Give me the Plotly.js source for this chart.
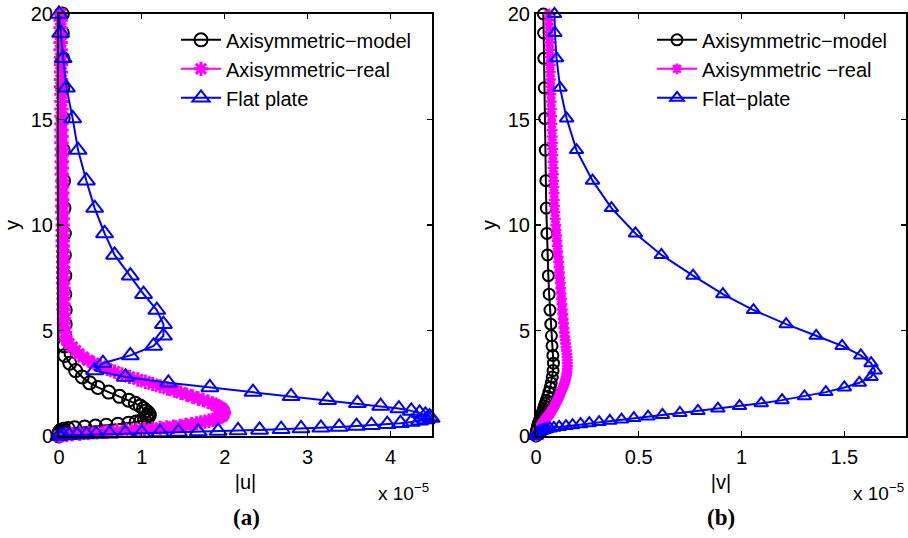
<!DOCTYPE html>
<html>
<head>
<meta charset="utf-8">
<script src="https://cdn.plot.ly/plotly-3.0.1.min.js"></script>
<style>
  html, body { margin: 0; padding: 0; background: #fff; }
  #plot { width: 908px; height: 538px; }
</style>
</head>
<body>
<div id="plot"></div>
<script>
// Wall-normal grid shared by the model and flat-plate profiles (top to wall)
const yGrid = [
  20.0, 19.1, 17.9, 16.5, 15.05, 13.55, 12.1, 10.8, 9.6, 8.58,
  7.6, 6.72, 5.97, 5.3, 4.75, 4.27, 3.82, 3.45, 3.1, 2.8,
  2.52, 2.3, 2.08, 1.88, 1.7, 1.55, 1.42, 1.3, 1.19, 1.09,
  1.0, 0.92, 0.85, 0.78, 0.72, 0.66, 0.61, 0.56, 0.51, 0.47,
  0.43, 0.39, 0.355, 0.32, 0.29, 0.26, 0.235, 0.21, 0.19, 0.17,
  0.15, 0.13, 0.11, 0.09, 0.07, 0.055, 0.04, 0.025, 0.01, 0.0
];

// |u| in units of 1e-5
const uModel = [
  0.04, 0.04, 0.045, 0.045, 0.05, 0.05, 0.055, 0.06, 0.065, 0.065,
  0.07, 0.07, 0.075, 0.075, 0.07, 0.065, 0.07, 0.13, 0.2, 0.28,
  0.37, 0.47, 0.6, 0.73, 0.84, 0.92, 0.98, 1.02, 1.05, 1.08,
  1.09, 1.08, 1.06, 1.03, 0.99, 0.93, 0.84, 0.71, 0.57, 0.44,
  0.31, 0.19, 0.11, 0.06, 0.035, 0.02, 0.015, 0.01, 0.008, 0.006,
  0.005, 0.004, 0.003, 0.002, 0.0015, 0.001, 0.0005, 0.0003, 0.0001, 0.0
];
const uFlat = [
  0.0, 0.02, 0.05, 0.09, 0.165, 0.23, 0.33, 0.43, 0.55, 0.67,
  0.86, 1.02, 1.18, 1.26, 1.26, 1.14, 0.86, 0.53, 0.43, 0.8,
  1.32, 1.82, 2.34, 2.8, 3.24, 3.6, 3.88, 4.1, 4.25, 4.35,
  4.42, 4.47, 4.49, 4.43, 4.35, 4.25, 4.12, 3.96, 3.77, 3.59,
  3.38, 3.16, 2.92, 2.68, 2.42, 2.16, 1.92, 1.68, 1.44, 1.22,
  1.0, 0.8, 0.61, 0.45, 0.33, 0.22, 0.12, 0.05, 0.01, 0.0
];

// |v| in units of 1e-5
const vModel = [
  0.036, 0.037, 0.038, 0.04, 0.042, 0.045, 0.048, 0.05, 0.053, 0.056,
  0.06, 0.064, 0.068, 0.072, 0.075, 0.078, 0.082, 0.085, 0.083, 0.079,
  0.074, 0.069, 0.063, 0.057, 0.051, 0.045, 0.041, 0.037, 0.033, 0.03,
  0.027, 0.024, 0.021, 0.019, 0.017, 0.015, 0.013, 0.011, 0.01, 0.009,
  0.008, 0.007, 0.006, 0.005, 0.0045, 0.004, 0.0035, 0.003, 0.0025, 0.002,
  0.0018, 0.0015, 0.0012, 0.001, 0.0008, 0.0006, 0.0004, 0.0003, 0.0001, 0.0
];
const vFlat = [
  0.09, 0.092, 0.10, 0.117, 0.149, 0.197, 0.275, 0.367, 0.484, 0.61,
  0.764, 0.909, 1.058, 1.217, 1.363, 1.489, 1.58, 1.63, 1.65, 1.63,
  1.573, 1.5, 1.41, 1.306, 1.197, 1.096, 0.99, 0.885, 0.788, 0.70,
  0.615, 0.545, 0.476, 0.416, 0.359, 0.307, 0.259, 0.217, 0.178, 0.146,
  0.113, 0.087, 0.068, 0.052, 0.04, 0.031, 0.024, 0.018, 0.014, 0.011,
  0.008, 0.006, 0.0045, 0.003, 0.002, 0.0012, 0.0007, 0.0003, 0.0001, 0.0
];

// Finer grid used by the axisymmetric "real" solution
const yReal = [
  20, 19.7, 19.35, 19.0, 18.65, 18.3, 17.95, 17.6, 17.25, 16.9, 16.55, 16.2, 15.85, 15.5, 15.15, 14.8,
  14.5, 14.2, 13.9, 13.6, 13.3, 13.0, 12.7, 12.4, 12.1, 11.8, 11.5, 11.2, 10.9, 10.6, 10.3, 10.0,
  9.75, 9.5, 9.25, 9.0, 8.75, 8.5, 8.25, 8.0, 7.75, 7.5, 7.25, 7.0, 6.75, 6.5, 6.25, 6.0, 5.78, 5.56, 5.34, 5.12, 4.9,
  4.72, 4.55, 4.38, 4.21, 4.05, 3.89, 3.74, 3.59, 3.45, 3.31, 3.18, 3.05, 2.92, 2.8, 2.68, 2.57, 2.46, 2.35, 2.25, 2.15, 2.05,
  1.96, 1.87, 1.78, 1.7, 1.62, 1.54, 1.47, 1.4, 1.33, 1.26, 1.2, 1.14, 1.08, 1.02, 0.97, 0.92, 0.87, 0.82, 0.77, 0.72,
  0.68, 0.64, 0.6, 0.56, 0.52, 0.48, 0.44, 0.41, 0.38, 0.35, 0.32, 0.29, 0.26, 0.23, 0.2, 0.17, 0.14, 0.11, 0.08, 0.05, 0.02, 0
];
const uReal = [
  0.02, 0.02, 0.02, 0.02, 0.02, 0.02, 0.025, 0.025, 0.025, 0.025, 0.025, 0.03, 0.03, 0.03, 0.03, 0.03,
  0.03, 0.03, 0.03, 0.035, 0.035, 0.035, 0.035, 0.035, 0.04, 0.04, 0.04, 0.04, 0.04, 0.04, 0.045, 0.045,
  0.045, 0.045, 0.045, 0.045, 0.05, 0.05, 0.05, 0.05, 0.05, 0.05, 0.05, 0.055, 0.055, 0.055, 0.055, 0.055, 0.06, 0.06, 0.06, 0.065, 0.07,
  0.075, 0.09, 0.12, 0.16, 0.2, 0.24, 0.29, 0.35, 0.42, 0.5, 0.58, 0.67, 0.76, 0.85, 0.95, 1.04, 1.13, 1.22, 1.31, 1.39, 1.47,
  1.54, 1.61, 1.68, 1.74, 1.8, 1.85, 1.89, 1.92, 1.95, 1.97, 1.98, 1.99, 1.99, 1.98, 1.97, 1.96, 1.93, 1.9, 1.86, 1.81,
  1.76, 1.71, 1.66, 1.6, 1.53, 1.46, 1.38, 1.3, 1.22, 1.13, 1.03, 0.93, 0.82, 0.7, 0.58, 0.46, 0.35, 0.25, 0.16, 0.09, 0.03, 0
];
const vReal = [
  0.062, 0.063, 0.064, 0.064, 0.066, 0.067, 0.068, 0.069, 0.07, 0.071, 0.072, 0.073, 0.074, 0.075, 0.076, 0.077,
  0.078, 0.079, 0.08, 0.081, 0.082, 0.083, 0.084, 0.085, 0.086, 0.087, 0.088, 0.089, 0.09, 0.092, 0.094, 0.096,
  0.098, 0.1, 0.102, 0.104, 0.106, 0.108, 0.11, 0.112, 0.114, 0.116, 0.118, 0.12, 0.122, 0.124, 0.126, 0.128, 0.13, 0.132, 0.134, 0.136, 0.138,
  0.14, 0.142, 0.144, 0.146, 0.148, 0.15, 0.151, 0.152, 0.153, 0.153, 0.152, 0.151, 0.149, 0.147, 0.144, 0.141, 0.137, 0.133, 0.129, 0.124, 0.12,
  0.116, 0.112, 0.108, 0.104, 0.1, 0.096, 0.092, 0.088, 0.084, 0.08, 0.076, 0.072, 0.068, 0.064, 0.06, 0.056, 0.052, 0.048, 0.044, 0.041,
  0.038, 0.035, 0.032, 0.029, 0.026, 0.024, 0.022, 0.02, 0.018, 0.016, 0.014, 0.012, 0.011, 0.01, 0.008, 0.007, 0.006, 0.005, 0.004, 0.003, 0.001, 0
];

const xTicksU = [0, 1, 2, 3, 4];
const xTicksV = [0, 0.5, 1, 1.5];
const yTicks = [0, 5, 10, 15, 20];

const BLACK = '#000000', MAGENTA = '#FF00FF', BLUE = '#0000FF';
const SANS = 'Liberation Sans, Arial, Helvetica, sans-serif';

function modelTrace(x, y, name, xa, ya, leg, size) {
  return {
    x: x, y: y, name: name, xaxis: xa, yaxis: ya, legend: leg,
    type: 'scatter', mode: 'lines+markers', cliponaxis: false,
    line: { color: BLACK, width: 2 },
    marker: { symbol: 'circle-open', size: size, color: BLACK, line: { width: 2, color: BLACK } }
  };
}
function realTrace(x, y, name, xa, ya, leg, size, lw) {
  return {
    x: x, y: y, name: name, xaxis: xa, yaxis: ya, legend: leg,
    type: 'scatter', mode: 'lines+markers', cliponaxis: false,
    line: { color: MAGENTA, width: 2 },
    marker: { symbol: 'asterisk-open', size: size, color: MAGENTA, line: { width: lw, color: MAGENTA } }
  };
}
function flatTrace(x, y, name, xa, ya, leg, size) {
  return {
    x: x, y: y, name: name, xaxis: xa, yaxis: ya, legend: leg,
    type: 'scatter', mode: 'lines+markers', cliponaxis: false,
    line: { color: BLUE, width: 2 },
    marker: { symbol: 'triangle-up-open', size: size, color: BLUE, line: { width: 2, color: BLUE } }
  };
}

const data = [
  modelTrace(uModel, yGrid, 'Axisymmetric\u2212model', 'x', 'y', 'legend', 13),
  realTrace(uReal, yReal, 'Axisymmetric\u2212real', 'x', 'y', 'legend', 12, 3),
  flatTrace(uFlat, yGrid, 'Flat plate', 'x', 'y', 'legend', 15),
  modelTrace(vModel, yGrid, 'Axisymmetric\u2212model', 'x2', 'y2', 'legend2', 11),
  realTrace(vReal, yReal, 'Axisymmetric \u2212real', 'x2', 'y2', 'legend2', 9, 2.5),
  flatTrace(vFlat, yGrid, 'Flat\u2212plate', 'x2', 'y2', 'legend2', 12)
];

const tickFont = { family: SANS, size: 20, color: BLACK };

function xAxis(domain, range, ticks, title, anchor) {
  return {
    domain: domain, range: range, anchor: anchor,
    tickmode: 'array', tickvals: ticks,
    ticks: 'inside', ticklen: 5, tickwidth: 1.2, tickcolor: BLACK,
    showline: true, linewidth: 2, linecolor: BLACK, mirror: 'ticks',
    showgrid: false, zeroline: false, tickfont: tickFont, ticklabelstandoff: 2,
    title: { text: title, font: { family: SANS, size: 20, color: BLACK }, standoff: 8 }
  };
}
function yAxis(anchor) {
  return {
    domain: [0, 1], range: [0, 20], anchor: anchor,
    tickmode: 'array', tickvals: yTicks,
    ticks: 'inside', ticklen: 5, tickwidth: 1.2, tickcolor: BLACK,
    showline: true, linewidth: 2, linecolor: BLACK, mirror: 'ticks',
    showgrid: false, zeroline: false, tickfont: tickFont,
    title: { text: 'y', font: { family: SANS, size: 20, color: BLACK }, standoff: 6 }
  };
}

const legendBase = {
  xanchor: 'left', yanchor: 'top', y: 0.985,
  bgcolor: 'rgba(0,0,0,0)', borderwidth: 0,
  font: { family: SANS, size: 20, color: BLACK },
  itemwidth: 40, tracegroupgap: 0
};

const layout = {
  width: 908, height: 538,
  margin: { l: 0, r: 0, t: 14, b: 102 },
  paper_bgcolor: '#ffffff', plot_bgcolor: '#ffffff',
  showlegend: true,
  xaxis: xAxis([59 / 908, 432 / 908], [0, 4.5], xTicksU, '|u|', 'y'),
  yaxis: yAxis('x'),
  xaxis2: xAxis([536 / 908, 906 / 908], [0, 1.8], xTicksV, '|v|', 'y2'),
  yaxis2: yAxis('x2'),
  legend: Object.assign({}, legendBase, { x: 176 / 908 }),
  legend2: Object.assign({}, legendBase, { x: 652 / 908 }),
  annotations: [
    { xref: 'paper', yref: 'paper', x: 376 / 908, y: -0.132, xanchor: 'left', yanchor: 'middle',
      text: 'x 10<sup>\u22125</sup>', showarrow: false, font: { family: SANS, size: 19, color: BLACK } },
    { xref: 'paper', yref: 'paper', x: 851 / 908, y: -0.132, xanchor: 'left', yanchor: 'middle',
      text: 'x 10<sup>\u22125</sup>', showarrow: false, font: { family: SANS, size: 19, color: BLACK } },
    { xref: 'paper', yref: 'paper', x: 246 / 908, y: -0.192, xanchor: 'center', yanchor: 'middle',
      text: '<b>(a)</b>', showarrow: false, font: { family: 'Liberation Serif, Times New Roman, serif', size: 23, color: BLACK } },
    { xref: 'paper', yref: 'paper', x: 721 / 908, y: -0.192, xanchor: 'center', yanchor: 'middle',
      text: '<b>(b)</b>', showarrow: false, font: { family: 'Liberation Serif, Times New Roman, serif', size: 23, color: BLACK } }
  ]
};

Plotly.newPlot('plot', data, layout, { displayModeBar: false, staticPlot: true });
</script>
</body>
</html>
